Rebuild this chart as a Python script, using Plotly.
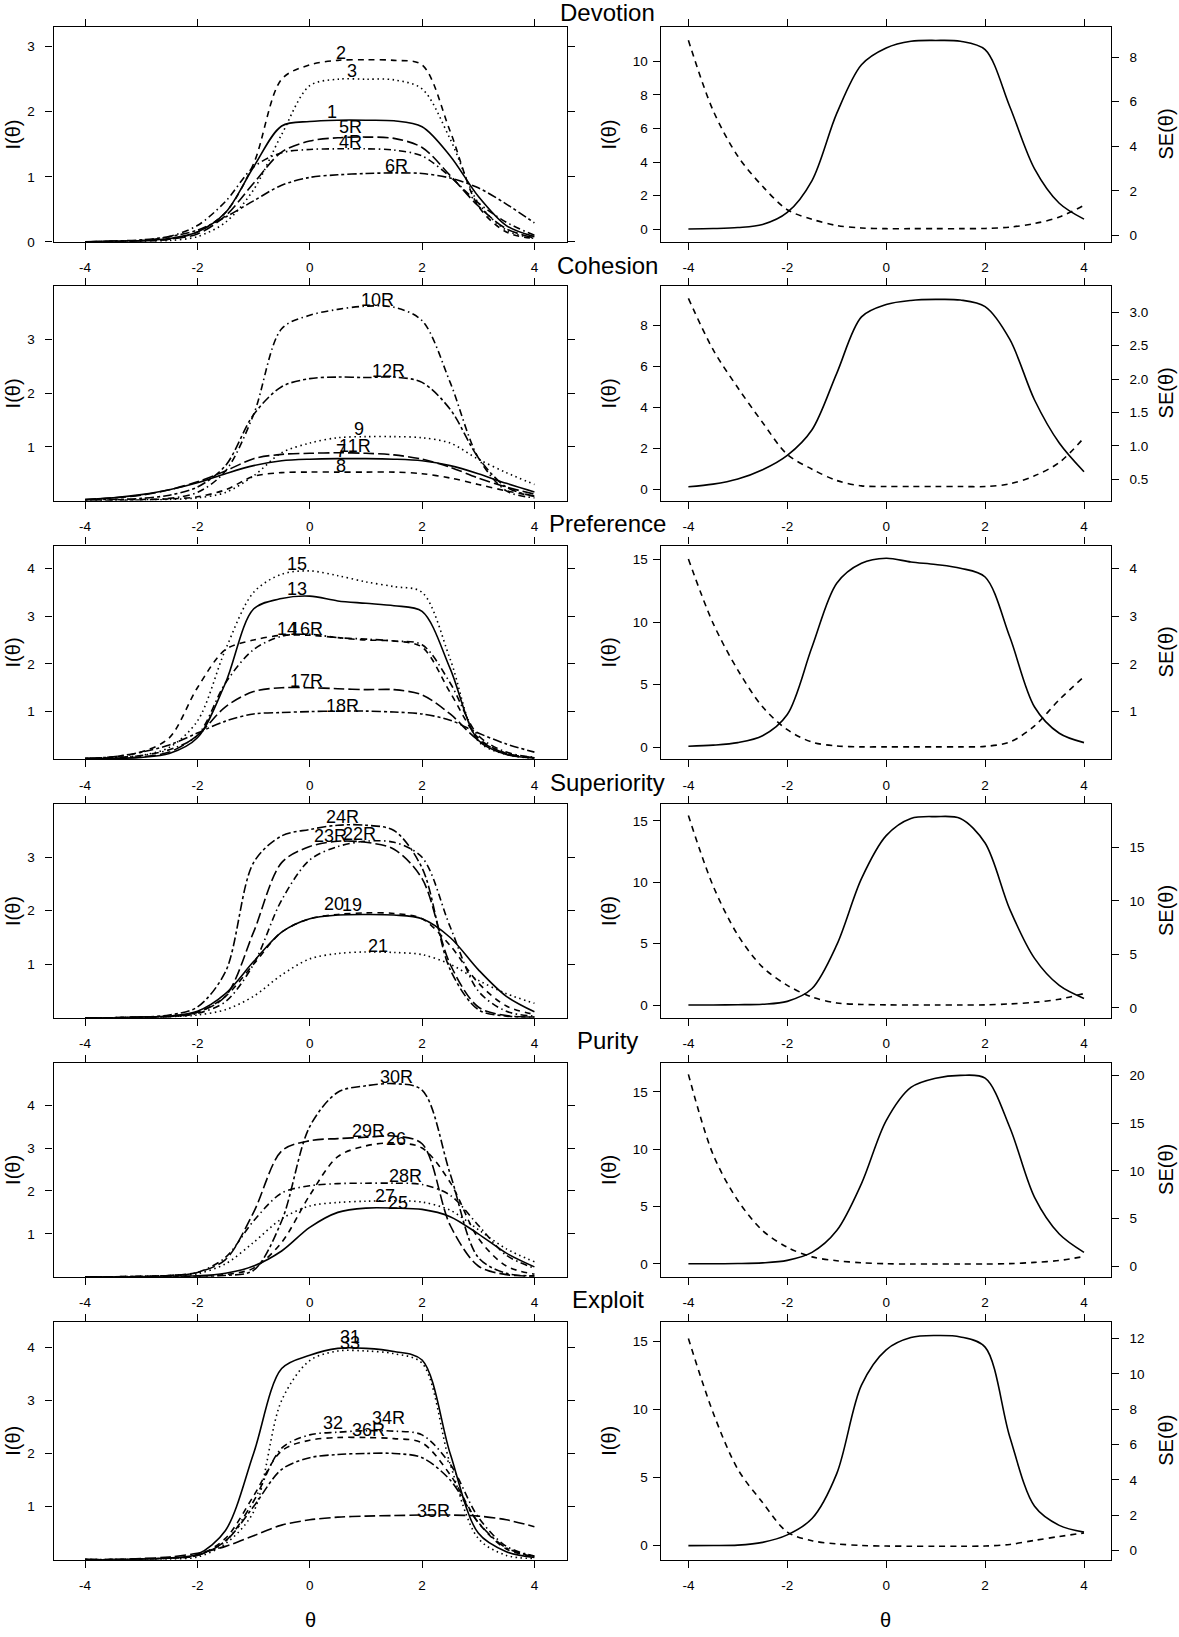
import plotly.graph_objects as go

W, H = 1179, 1637

THETA = [-4.0, -3.5, -3.0, -2.5, -2.0, -1.5, -1.0, -0.5, 0.0, 0.5, 1.0, 1.5, 2.0, 2.5, 3.0, 3.5, 4.0]
TICK_THETA = [-4, -2, 0, 2, 4]
TICK_THETA_TEXT = ["-4", "-2", "0", "2", "4"]

SCALE_NAMES = ["Devotion", "Cohesion", "Preference", "Superiority", "Purity", "Exploit"]

# ---------------- Devotion ----------------
DEVOTION_ITEM_NAMES = ["1", "2", "3", "4R", "5R", "6R"]
DEVOTION_ITEMS = [
    [0.0, 0.01, 0.02, 0.05, 0.15, 0.45, 1.15, 1.78, 1.85, 1.87, 1.87, 1.86, 1.77, 1.32, 0.7, 0.25, 0.08],
    [0.0, 0.0, 0.01, 0.04, 0.15, 0.45, 1.2, 2.5, 2.72, 2.79, 2.8, 2.79, 2.72, 1.7, 0.55, 0.15, 0.05],
    [0.0, 0.0, 0.01, 0.02, 0.08, 0.3, 0.8, 1.65, 2.4, 2.5, 2.5, 2.49, 2.35, 1.58, 0.6, 0.18, 0.05],
    [0.0, 0.01, 0.02, 0.08, 0.25, 0.62, 1.15, 1.37, 1.42, 1.43, 1.43, 1.41, 1.32, 1.0, 0.6, 0.3, 0.1],
    [0.0, 0.0, 0.01, 0.04, 0.12, 0.4, 0.9, 1.38, 1.55, 1.6, 1.61, 1.59, 1.45, 1.02, 0.55, 0.2, 0.06],
    [0.0, 0.01, 0.03, 0.08, 0.18, 0.38, 0.63, 0.87, 0.99, 1.03, 1.05, 1.06, 1.05, 0.98, 0.83, 0.58, 0.29],
]
DEVOTION_LABEL_THETA = [0.4, 0.56, 0.75, 0.73, 0.73, 1.54]
DEVOTION_LABEL_INFO = [1.99, 2.9, 2.62, 1.53, 1.76, 1.17]
DEVOTION_TEST_INFO = [0.013, 0.04, 0.1, 0.28, 1.0, 2.9, 6.9, 9.8, 10.8, 11.2, 11.25, 11.2, 10.7, 7.3, 3.6, 1.55, 0.6]
DEVOTION_SE = [8.75, 5.6, 3.55, 2.2, 1.15, 0.72, 0.44, 0.33, 0.3, 0.3, 0.3, 0.3, 0.31, 0.37, 0.53, 0.82, 1.35]

# ---------------- Cohesion ----------------
COHESION_ITEM_NAMES = ["7", "8", "9", "10R", "11R", "12R"]
COHESION_ITEMS = [
    [0.02, 0.05, 0.11, 0.2, 0.33, 0.5, 0.65, 0.74, 0.77, 0.78, 0.78, 0.77, 0.74, 0.65, 0.5, 0.32, 0.16],
    [0.0, 0.01, 0.02, 0.03, 0.07, 0.2, 0.45, 0.52, 0.53, 0.53, 0.53, 0.53, 0.5, 0.42, 0.3, 0.18, 0.08],
    [0.0, 0.0, 0.01, 0.02, 0.05, 0.15, 0.46, 0.89, 1.07, 1.17, 1.19, 1.19, 1.17, 1.07, 0.77, 0.52, 0.3],
    [0.0, 0.0, 0.01, 0.04, 0.15, 0.55, 1.6, 3.2, 3.45, 3.56, 3.62, 3.6, 3.35, 2.2, 0.8, 0.18, 0.05],
    [0.02, 0.05, 0.1, 0.2, 0.35, 0.55, 0.78, 0.86, 0.88, 0.89, 0.88, 0.85, 0.77, 0.62, 0.42, 0.25, 0.12],
    [0.01, 0.02, 0.04, 0.1, 0.25, 0.65, 1.6, 2.12, 2.27, 2.3, 2.29, 2.3, 2.2, 1.7, 0.8, 0.25, 0.08],
]
COHESION_LABEL_THETA = [0.55, 0.56, 0.87, 1.2, 0.8, 1.4]
COHESION_LABEL_INFO = [0.92, 0.64, 1.33, 3.73, 1.01, 2.41]
COHESION_TEST_INFO = [0.12, 0.25, 0.5, 0.95, 1.65, 2.9, 5.65, 8.4, 9.0, 9.2, 9.25, 9.22, 8.9, 7.3, 4.35, 2.25, 0.85]
COHESION_SE = [3.21, 2.44, 1.87, 1.35, 0.87, 0.65, 0.48, 0.4, 0.39, 0.39, 0.39, 0.39, 0.39, 0.43, 0.55, 0.75, 1.12]

# ---------------- Preference ----------------
PREFERENCE_ITEM_NAMES = ["13", "14", "15", "16R", "17R", "18R"]
PREFERENCE_ITEMS = [
    [0.01, 0.02, 0.04, 0.12, 0.45, 1.6, 3.15, 3.37, 3.42, 3.32, 3.27, 3.22, 3.1, 1.9, 0.4, 0.1, 0.03],
    [0.02, 0.05, 0.15, 0.45, 1.5, 2.3, 2.5, 2.6, 2.6, 2.55, 2.5, 2.48, 2.35, 1.4, 0.45, 0.12, 0.03],
    [0.01, 0.03, 0.08, 0.25, 0.8, 2.3, 3.5, 3.88, 3.95, 3.85, 3.72, 3.62, 3.5, 2.1, 0.38, 0.1, 0.02],
    [0.01, 0.03, 0.08, 0.2, 0.5, 1.6, 2.3, 2.58, 2.62, 2.55, 2.52, 2.48, 2.4, 1.6, 0.5, 0.15, 0.04],
    [0.01, 0.02, 0.05, 0.15, 0.5, 1.1, 1.42, 1.5, 1.5, 1.48, 1.46, 1.46, 1.35, 0.95, 0.4, 0.12, 0.03],
    [0.02, 0.05, 0.15, 0.3, 0.55, 0.8, 0.95, 0.98, 1.0, 1.01, 1.01, 0.99, 0.95, 0.82, 0.55, 0.32, 0.15],
]
PREFERENCE_LABEL_THETA = [-0.23, -0.4, -0.23, -0.05, -0.05, 0.58]
PREFERENCE_LABEL_INFO = [3.58, 2.74, 4.1, 2.74, 1.65, 1.11]
PREFERENCE_TEST_INFO = [0.06, 0.15, 0.35, 0.9, 2.6, 8.0, 13.1, 14.7, 15.1, 14.8, 14.6, 14.3, 13.6, 8.8, 3.2, 1.1, 0.35]
PREFERENCE_SE = [4.2, 2.85, 1.87, 1.1, 0.62, 0.36, 0.28, 0.26, 0.26, 0.26, 0.26, 0.26, 0.27, 0.36, 0.7, 1.25, 1.73]

# ---------------- Superiority ----------------
SUPERIORITY_ITEM_NAMES = ["19", "20", "21", "22R", "23R", "24R"]
SUPERIORITY_ITEMS = [
    [0.0, 0.0, 0.01, 0.03, 0.12, 0.45, 1.05, 1.6, 1.85, 1.92, 1.93, 1.92, 1.85, 1.5, 0.9, 0.4, 0.11],
    [0.0, 0.0, 0.01, 0.03, 0.1, 0.4, 1.0, 1.6, 1.85, 1.93, 1.96, 1.95, 1.85, 1.35, 0.65, 0.22, 0.06],
    [0.0, 0.0, 0.01, 0.02, 0.05, 0.15, 0.4, 0.8, 1.1, 1.2, 1.23, 1.22, 1.18, 1.0, 0.7, 0.45, 0.27],
    [0.0, 0.0, 0.01, 0.02, 0.08, 0.3, 1.0, 2.2, 2.95, 3.2, 3.3, 3.28, 3.0, 1.7, 0.5, 0.12, 0.03],
    [0.0, 0.0, 0.01, 0.02, 0.1, 0.4, 1.6, 2.9, 3.2, 3.3, 3.28, 3.15, 2.6, 1.0, 0.2, 0.04, 0.01],
    [0.0, 0.0, 0.01, 0.05, 0.2, 0.86, 2.9, 3.4, 3.52, 3.6, 3.6, 3.5, 2.8, 0.9, 0.15, 0.03, 0.01],
]
SUPERIORITY_LABEL_THETA = [0.75, 0.44, 1.22, 0.88, 0.37, 0.58]
SUPERIORITY_LABEL_INFO = [2.11, 2.13, 1.35, 3.43, 3.4, 3.76]
SUPERIORITY_TEST_INFO = [0.003, 0.01, 0.03, 0.07, 0.3, 1.35, 4.9, 10.3, 13.8, 15.2, 15.35, 15.2, 13.2, 7.8, 3.8, 1.6, 0.54]
SUPERIORITY_SE = [18.0, 11.4, 6.8, 3.8, 2.1, 1.0, 0.45, 0.31, 0.27, 0.26, 0.26, 0.26, 0.27, 0.36, 0.51, 0.8, 1.33]

# ---------------- Purity ----------------
PURITY_ITEM_NAMES = ["25", "26", "27", "28R", "29R", "30R"]
PURITY_ITEMS = [
    [0.0, 0.0, 0.0, 0.01, 0.02, 0.08, 0.25, 0.6, 1.15, 1.5, 1.6, 1.6, 1.57, 1.4, 1.0, 0.55, 0.23],
    [0.0, 0.0, 0.0, 0.0, 0.01, 0.05, 0.2, 0.8, 1.9, 2.8, 3.05, 3.12, 3.0, 2.2, 0.9, 0.25, 0.06],
    [0.0, 0.0, 0.01, 0.02, 0.07, 0.3, 0.8, 1.35, 1.65, 1.73, 1.76, 1.77, 1.74, 1.55, 1.1, 0.65, 0.35],
    [0.0, 0.0, 0.01, 0.03, 0.1, 0.45, 1.3, 1.95, 2.12, 2.17, 2.18, 2.18, 2.15, 1.9, 1.2, 0.5, 0.2],
    [0.0, 0.0, 0.01, 0.03, 0.1, 0.4, 1.5, 2.93, 3.17, 3.22, 3.25, 3.28, 3.1, 1.2, 0.25, 0.05, 0.01],
    [0.0, 0.0, 0.0, 0.0, 0.01, 0.03, 0.15, 1.3, 3.5, 4.3, 4.45, 4.5, 4.35, 2.4, 0.45, 0.08, 0.02],
]
PURITY_LABEL_THETA = [1.58, 1.54, 1.34, 1.71, 1.04, 1.54]
PURITY_LABEL_INFO = [1.73, 3.22, 1.89, 2.35, 3.4, 4.65]
PURITY_TEST_INFO = [0.002, 0.005, 0.02, 0.08, 0.3, 1.0, 2.9, 7.0, 12.5, 15.4, 16.2, 16.45, 16.2, 11.9, 5.8, 2.6, 1.0]
PURITY_SE = [20.1, 11.7, 6.9, 3.75, 2.0, 1.0, 0.6, 0.38, 0.28, 0.25, 0.25, 0.25, 0.25, 0.29, 0.42, 0.62, 1.04]

# ---------------- Exploit ----------------
EXPLOIT_ITEM_NAMES = ["31", "32", "33", "34R", "35R", "36R"]
EXPLOIT_ITEMS = [
    [0.0, 0.0, 0.01, 0.03, 0.1, 0.55, 2.0, 3.6, 3.85, 3.98, 3.98, 3.92, 3.76, 2.0, 0.5, 0.15, 0.04],
    [0.0, 0.0, 0.01, 0.03, 0.08, 0.4, 1.2, 2.05, 2.25, 2.3, 2.3, 2.28, 2.2, 1.6, 0.7, 0.2, 0.06],
    [0.0, 0.0, 0.0, 0.01, 0.05, 0.3, 0.9, 3.0, 3.75, 3.93, 3.93, 3.88, 3.7, 1.8, 0.4, 0.08, 0.02],
    [0.0, 0.0, 0.01, 0.03, 0.08, 0.35, 1.1, 2.1, 2.35, 2.4, 2.43, 2.42, 2.35, 1.8, 0.8, 0.25, 0.07],
    [0.0, 0.0, 0.02, 0.05, 0.12, 0.25, 0.45, 0.65, 0.75, 0.8, 0.82, 0.83, 0.84, 0.84, 0.82, 0.75, 0.62],
    [0.0, 0.0, 0.01, 0.03, 0.08, 0.35, 1.0, 1.7, 1.92, 1.98, 2.0, 2.0, 1.92, 1.5, 0.7, 0.22, 0.06],
]
EXPLOIT_LABEL_THETA = [0.71, 0.41, 0.71, 1.4, 2.21, 1.04]
EXPLOIT_LABEL_INFO = [4.2, 2.58, 4.08, 2.67, 0.92, 2.44]
EXPLOIT_TEST_INFO = [0.007, 0.016, 0.05, 0.25, 0.8, 2.0, 5.3, 11.8, 14.4, 15.3, 15.45, 15.35, 14.6, 8.0, 2.9, 1.5, 1.0]
EXPLOIT_SE = [12.0, 7.8, 4.6, 2.72, 1.05, 0.56, 0.38, 0.29, 0.26, 0.25, 0.25, 0.25, 0.26, 0.35, 0.58, 0.8, 1.0]

ALL_ITEMS = [DEVOTION_ITEMS, COHESION_ITEMS, PREFERENCE_ITEMS, SUPERIORITY_ITEMS, PURITY_ITEMS, EXPLOIT_ITEMS]
ALL_NAMES = [DEVOTION_ITEM_NAMES, COHESION_ITEM_NAMES, PREFERENCE_ITEM_NAMES,
             SUPERIORITY_ITEM_NAMES, PURITY_ITEM_NAMES, EXPLOIT_ITEM_NAMES]
ALL_LABEL_THETA = [DEVOTION_LABEL_THETA, COHESION_LABEL_THETA, PREFERENCE_LABEL_THETA,
                   SUPERIORITY_LABEL_THETA, PURITY_LABEL_THETA, EXPLOIT_LABEL_THETA]
ALL_LABEL_INFO = [DEVOTION_LABEL_INFO, COHESION_LABEL_INFO, PREFERENCE_LABEL_INFO,
                  SUPERIORITY_LABEL_INFO, PURITY_LABEL_INFO, EXPLOIT_LABEL_INFO]
ALL_TEST_INFO = [DEVOTION_TEST_INFO, COHESION_TEST_INFO, PREFERENCE_TEST_INFO,
                 SUPERIORITY_TEST_INFO, PURITY_TEST_INFO, EXPLOIT_TEST_INFO]
ALL_SE = [DEVOTION_SE, COHESION_SE, PREFERENCE_SE, SUPERIORITY_SE, PURITY_SE, EXPLOIT_SE]

# ---------------- axis scales (per row) ----------------
LEFT_YRANGE = [[0, 3.3], [0, 3.99], [0, 4.48], [0, 3.99], [0, 4.98], [0, 4.48]]
LEFT_YTICKS = [[0, 1, 2, 3], [1, 2, 3], [1, 2, 3, 4], [1, 2, 3], [1, 2, 3, 4], [1, 2, 3, 4]]
RIGHT_YRANGE = [[-0.75, 12.04], [-0.55, 9.89], [-0.98, 16.11], [-1.03, 16.35], [-1.13, 17.52], [-1.02, 16.46]]
RIGHT_YTICKS = [[0, 2, 4, 6, 8, 10], [0, 2, 4, 6, 8], [0, 5, 10, 15], [0, 5, 10, 15], [0, 5, 10, 15], [0, 5, 10, 15]]
SE_RANGE = [[-0.29, 9.34], [0.18, 3.39], [0.0, 4.48], [-0.93, 19.04], [-1.08, 21.28], [-0.51, 12.94]]
SE_TICKS = [[0, 2, 4, 6, 8], [0.5, 1.0, 1.5, 2.0, 2.5, 3.0], [1, 2, 3, 4], [0, 5, 10, 15],
            [0, 5, 10, 15, 20], [0, 2, 4, 6, 8, 10, 12]]
SE_TICKTEXT_FMT = ["{:g}", "{:.1f}", "{:g}", "{:g}", "{:g}", "{:g}"]

# ---------------- layout geometry (pixels) ----------------
ROW_PX = [(27.3, 243.0), (287.7, 503.0), (548.3, 763.0), (808.3, 1022.7), (1068.3, 1283.0), (1328.3, 1567.3)]
TITLE_PX = [13, 267, 526, 786, 1046, 1306]
LEFT_BOX = (53.6, 567.0)
RIGHT_BOX = (660.7, 1110.7)
LEFT_XRANGE = [-4.56, 4.58]
RIGHT_XRANGE = [-4.56, 4.54]

DASHES = ["solid", "6px,5px", "1.5px,3.5px", "1.5px,3.5px,7px,3.5px", "11px,4px", "3px,3px,9px,3px"]
FONT = "Arial, 'Liberation Sans', sans-serif"
LW = 1.6


def px_x(v):
    return v / W


def px_y(v):
    return 1 - v / H


fig = go.Figure()

base_axis = dict(
    showline=True, linecolor="black", linewidth=1.3,
    ticks="outside", ticklen=7, tickwidth=1.3, tickcolor="black",
    showgrid=False, zeroline=False,
    tickfont=dict(size=13.5, color="black", family=FONT),
)

annotations = []
layout_axes = {}

for r in range(6):
    top, bot = ROW_PX[r]
    ydom = [px_y(bot), px_y(top)]
    lx, ly = 2 * r + 1, 2 * r + 1
    rx, ry = 2 * r + 2, 2 * r + 2
    se = 13 + r

    # ---- left panel: item information ----
    for k, (vals, name) in enumerate(zip(ALL_ITEMS[r], ALL_NAMES[r])):
        fig.add_trace(go.Scatter(
            x=THETA, y=vals, mode="lines", name=name, showlegend=False,
            line=dict(color="black", width=LW, dash=DASHES[k], shape="spline", smoothing=0.9),
            xaxis=f"x{lx}", yaxis=f"y{ly}", hoverinfo="skip"))
        annotations.append(dict(
            x=ALL_LABEL_THETA[r][k], y=ALL_LABEL_INFO[r][k], xref=f"x{lx}", yref=f"y{ly}",
            text=name, showarrow=False, xanchor="center", yanchor="middle",
            font=dict(size=18, color="black", family=FONT)))

    layout_axes[f"xaxis{lx}"] = dict(
        base_axis, domain=[px_x(LEFT_BOX[0]), px_x(LEFT_BOX[1])], range=LEFT_XRANGE,
        anchor=f"y{ly}", mirror="ticks", tickvals=TICK_THETA, ticktext=TICK_THETA_TEXT,
        ticklabelstandoff=6)
    layout_axes[f"yaxis{ly}"] = dict(
        base_axis, domain=ydom, range=LEFT_YRANGE[r], anchor=f"x{lx}", mirror="ticks",
        tickvals=LEFT_YTICKS[r], ticktext=[str(v) for v in LEFT_YTICKS[r]],
        ticklabelstandoff=8)

    # ---- right panel: test information and SE ----
    fig.add_trace(go.Scatter(
        x=THETA, y=ALL_TEST_INFO[r], mode="lines", showlegend=False,
        line=dict(color="black", width=LW, shape="spline", smoothing=0.9),
        xaxis=f"x{rx}", yaxis=f"y{ry}", hoverinfo="skip"))
    fig.add_trace(go.Scatter(
        x=THETA, y=ALL_SE[r], mode="lines", showlegend=False,
        line=dict(color="black", width=LW, dash="6px,5px", shape="spline", smoothing=0.9),
        xaxis=f"x{rx}", yaxis=f"y{se}", hoverinfo="skip"))

    layout_axes[f"xaxis{rx}"] = dict(
        base_axis, domain=[px_x(RIGHT_BOX[0]), px_x(RIGHT_BOX[1])], range=RIGHT_XRANGE,
        anchor=f"y{ry}", mirror="ticks", tickvals=TICK_THETA, ticktext=TICK_THETA_TEXT,
        ticklabelstandoff=6)
    layout_axes[f"yaxis{ry}"] = dict(
        base_axis, domain=ydom, range=RIGHT_YRANGE[r], anchor=f"x{rx}",
        tickvals=RIGHT_YTICKS[r], ticktext=[str(v) for v in RIGHT_YTICKS[r]],
        ticklabelstandoff=2)
    layout_axes[f"yaxis{se}"] = dict(
        base_axis, range=SE_RANGE[r], anchor=f"x{rx}", overlaying=f"y{ry}", side="right",
        tickvals=SE_TICKS[r], ticktext=[SE_TICKTEXT_FMT[r].format(v) for v in SE_TICKS[r]],
        ticklabelstandoff=8)

    # ---- text: title and axis titles ----
    annotations.append(dict(
        x=px_x(608), y=px_y(TITLE_PX[r]), xref="paper", yref="paper", text=SCALE_NAMES[r],
        showarrow=False, xanchor="center", yanchor="middle",
        font=dict(size=24, color="black", family=FONT)))
    ymid = px_y((top + bot) / 2)
    for xpx, txt in [(13, "I(θ)"), (609, "I(θ)"), (1166, "SE(θ)")]:
        annotations.append(dict(
            x=px_x(xpx), y=ymid, xref="paper", yref="paper", text=txt, textangle=-90,
            showarrow=False, xanchor="center", yanchor="middle",
            font=dict(size=20, color="black", family=FONT)))

for xpx in [(LEFT_BOX[0] + LEFT_BOX[1]) / 2, (RIGHT_BOX[0] + RIGHT_BOX[1]) / 2]:
    annotations.append(dict(
        x=px_x(xpx), y=px_y(1628), xref="paper", yref="paper", text="θ",
        showarrow=False, xanchor="center", yanchor="middle",
        font=dict(size=20, color="black", family=FONT)))

fig.update_layout(
    width=W, height=H,
    margin=dict(l=0, r=0, t=0, b=0),
    paper_bgcolor="white", plot_bgcolor="white",
    font=dict(family=FONT, color="black"),
    showlegend=False,
    annotations=annotations,
    **layout_axes,
)

fig.write_html(
    "out.html",
    config={"displayModeBar": False},
    post_script="document.body.style.margin='0';document.body.style.overflow='hidden';",
)
